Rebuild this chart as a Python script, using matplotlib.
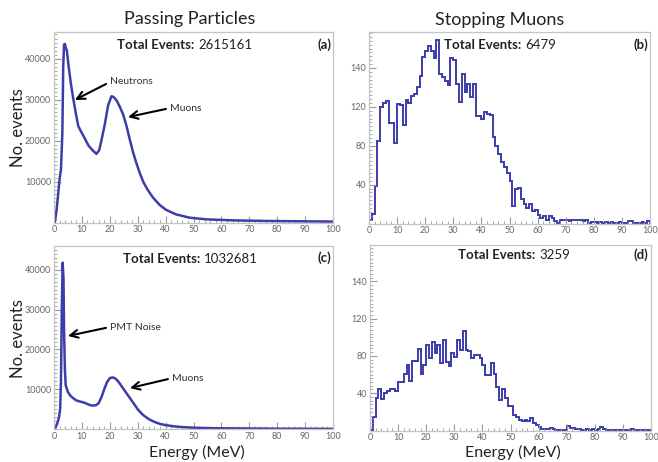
import matplotlib
matplotlib.use('Agg')
import matplotlib.pyplot as plt
import numpy as np
from matplotlib.ticker import MultipleLocator, FixedLocator

# ---------------- data ----------------
# Passing particles (a): smooth spectrum
a_energy = [0.3, 1.0, 1.5, 2.0, 2.5, 3.0, 3.3, 3.6, 3.9, 4.3, 4.6, 5.1, 6.0, 6.9,
            7.9, 8.7, 9.9, 11.1, 12.3, 13.8, 15.2, 16.2, 17.0, 18.2, 19.4, 20.6,
            21.4, 22.4, 23.6, 24.8, 26.0, 27.1, 28.3, 29.5, 30.7, 32.1, 33.7,
            35.5, 37.9, 40.2, 43.8, 48.6, 54.5, 64.0, 76.0, 88.0, 100.0]
a_counts = [0, 3500, 7000, 10600, 13000, 22000, 38000, 43500, 43700, 42600, 42100,
            39000, 34200, 30300, 26400, 23600, 22000, 20500, 18900, 17700, 16800,
            17700, 20100, 24000, 28700, 30900, 30700, 29900, 28300, 26400, 23600,
            20500, 17300, 14600, 12200, 9800, 7900, 6100, 4300, 3100, 2000, 1200,
            800, 550, 400, 320, 250]

# Passing particles (c)
c_energy = [0.5, 1.2, 1.8, 2.2, 2.5, 2.8, 3.1, 3.4, 3.6, 3.9, 4.2, 5.0, 6.0, 7.0,
            8.0, 9.0, 10.0, 11.0, 12.0, 13.0, 14.0, 15.0, 16.0, 17.0, 18.0, 19.0,
            20.0, 21.0, 22.0, 23.0, 24.0, 25.0, 26.0, 27.0, 28.0, 29.0, 30.0,
            31.0, 32.0, 33.0, 34.0, 36.0, 38.0, 40.0, 43.0, 46.0, 50.0, 55.0,
            60.0, 70.0, 80.0, 90.0, 100.0]
c_counts = [300, 1500, 3000, 5000, 12000, 30000, 41800, 38000, 25000, 15000, 11000,
            9300, 8300, 7700, 7200, 7000, 6800, 6600, 6300, 6000, 5900, 6000, 6500,
            8000, 10000, 11800, 12800, 13000, 12700, 12000, 11000, 10000, 9000,
            8000, 7000, 6000, 5000, 4200, 3500, 3000, 2500, 1800, 1300, 1000, 700,
            500, 350, 250, 200, 150, 100, 80, 60]

# Stopping muons, 1 MeV bins 0..100
bin_edges = list(range(0, 101))
b_counts = [4, 10, 39, 85, 120, 124, 126, 103, 103, 83,
            123, 122, 101, 127, 124, 131, 133, 140, 152, 171,
            177, 183, 177, 170, 189, 154, 151, 147, 142, 170,
            168, 144, 125, 154, 135, 144, 130, 144, 111, 111,
            108, 115, 113, 112, 89, 80, 71, 63, 58, 52,
            44, 18, 35, 37, 25, 20, 16, 20, 13, 14,
            9, 6, 8, 4, 8, 6, 3, 1, 4, 4,
            4, 3, 4, 4, 4, 4, 3, 4, 1, 2,
            2, 1, 2, 1, 2, 1, 2, 1, 1, 2,
            1, 1, 3, 3, 1, 1, 1, 2, 1, 3]
d_counts = [1, 15, 35, 44, 34, 40, 42, 45, 44, 42,
            52, 52, 61, 70, 53, 75, 75, 87, 61, 70,
            92, 78, 95, 83, 92, 72, 97, 74, 69, 83,
            79, 97, 86, 107, 86, 85, 78, 81, 81, 78,
            70, 60, 60, 72, 61, 47, 33, 44, 35, 26,
            26, 17, 15, 11, 10, 11, 10, 13, 8, 6,
            4, 2, 2, 2, 3, 2, 1, 1, 1, 1,
            5, 3, 3, 2, 2, 1, 1, 2, 1, 2,
            1, 2, 4, 2, 1, 1, 1, 1, 1, 1,
            1, 1, 1, 2, 1, 1, 1, 1, 1, 1]

x_ticks = [0, 10, 20, 30, 40, 50, 60, 70, 80, 90, 100]
y_ticks_pass = [10000, 20000, 30000, 40000]
y_ticks_stop = [40, 80, 120, 160]
y_ticklabels_stop = ['40', '80', '120', '140']

titles = ['Passing Particles', 'Stopping Muons']
totals = ['2615161', '6479', '1032681', '3259']
tags = ['(a)', '(b)', '(c)', '(d)']

# ---------------- figure ----------------
W, H = 658, 462
fig = plt.figure(figsize=(W / 100, H / 100), dpi=100)
plt.rcParams['font.family'] = ['Lato', 'DejaVu Sans']

def rect(l, t, r, b):
    return [l / W, 1 - b / H, (r - l) / W, (b - t) / H]

def fx(x):
    return x / W

def fy(y):
    return 1 - y / H

LINE = '#3c3cab'

ax_a = fig.add_axes(rect(54, 32, 333, 222.6))
ax_b = fig.add_axes(rect(369, 32, 650, 223.5))
ax_c = fig.add_axes(rect(54, 246, 333, 429.1))
ax_d = fig.add_axes(rect(370, 245, 651, 430.5))

ax_a.plot(a_energy, a_counts, color=LINE, lw=1.8)
ax_c.plot(c_energy, c_counts, color=LINE, lw=1.8)
ax_b.stairs(b_counts, bin_edges, color=LINE, lw=1.4)
ax_d.stairs(d_counts, bin_edges, color=LINE, lw=1.4)

def style(ax, ymax, yt, ytl, yminor):
    ax.set_xlim(0, 100)
    ax.set_ylim(0, ymax)
    for s in ax.spines.values():
        s.set_color('#c4c4c4')
        s.set_linewidth(0.9)
    ax.xaxis.set_major_locator(FixedLocator(x_ticks))
    ax.xaxis.set_minor_locator(MultipleLocator(2))
    ax.yaxis.set_major_locator(FixedLocator(yt))
    if ytl is not None:
        ax.set_yticklabels(ytl)
    ax.yaxis.set_minor_locator(MultipleLocator(yminor))
    ax.tick_params(which='both', direction='in', color='#9a9a9a',
                   labelcolor='#666666', labelsize=6.5, top=False, right=False,
                   pad=2)
    ax.tick_params(which='major', length=5, width=0.8)
    ax.tick_params(which='minor', length=2.5, width=0.6)

style(ax_a, 46600, y_ticks_pass, None, 1000)
style(ax_c, 46000, y_ticks_pass, None, 1000)
style(ax_b, 197, y_ticks_stop, y_ticklabels_stop, 4)
style(ax_d, 199, y_ticks_stop, y_ticklabels_stop, 4)

# titles
fig.text(fx(190), fy(19), titles[0], fontsize=13, ha='center', va='center', color='#222222')
fig.text(fx(500), fy(20), titles[1], fontsize=13, ha='center', va='center', color='#222222')

# Total events labels
renderer = fig.canvas.get_renderer()

def total(x, y, num):
    t = fig.text(fx(x), fy(y), 'Total Events:', fontsize=9.5, fontweight='bold',
                 ha='left', va='center', color='#222222')
    bb = t.get_window_extent(renderer)
    fig.text((bb.x1 + 4) / W, fy(y), num, fontsize=9.5, ha='left',
             va='center', color='#222222')

total(117, 45, totals[0])
total(444, 45, totals[1])
total(123, 259, totals[2])
total(458, 255, totals[3])

tag_pos = [(331, 45), (648, 45), (331, 258), (648, 255)]
for (x, y), tg in zip(tag_pos, tags):
    fig.text(fx(x), fy(y), tg, fontsize=9.5, fontweight='bold', ha='right',
             va='center', color='#222222')

# axis labels
for y in (128, 339):
    fig.text(fx(18), fy(y), 'No. events', fontsize=12, rotation=90,
             ha='center', va='center', color='#222222')
fig.text(fx(197), fy(452), 'Energy (MeV)', fontsize=11.5, ha='center', va='center', color='#222222')
fig.text(fx(513), fy(452), 'Energy (MeV)', fontsize=11.5, ha='center', va='center', color='#222222')

# annotations with arrows
aprops = dict(arrowstyle='->', color='black', lw=1.5, shrinkA=1, shrinkB=0,
              relpos=(0, 0.5), mutation_scale=14)
ax_a.annotate('Neutrons', xy=(7.5, 30000), xytext=(20.1, 34400), fontsize=7.5,
              ha='left', va='center', color='#333333', arrowprops=aprops)
ax_a.annotate('Muons', xy=(26.5, 25800), xytext=(41.6, 28000), fontsize=7.5,
              ha='left', va='center', color='#333333', arrowprops=aprops)
ax_c.annotate('PMT Noise', xy=(5.0, 23400), xytext=(20.1, 25650), fontsize=7.5,
              ha='left', va='center', color='#333333', arrowprops=aprops)
ax_c.annotate('Muons', xy=(27.2, 10300), xytext=(42.3, 12800), fontsize=7.5,
              ha='left', va='center', color='#333333', arrowprops=aprops)

fig.savefig('out.png', dpi=100, facecolor='white')
